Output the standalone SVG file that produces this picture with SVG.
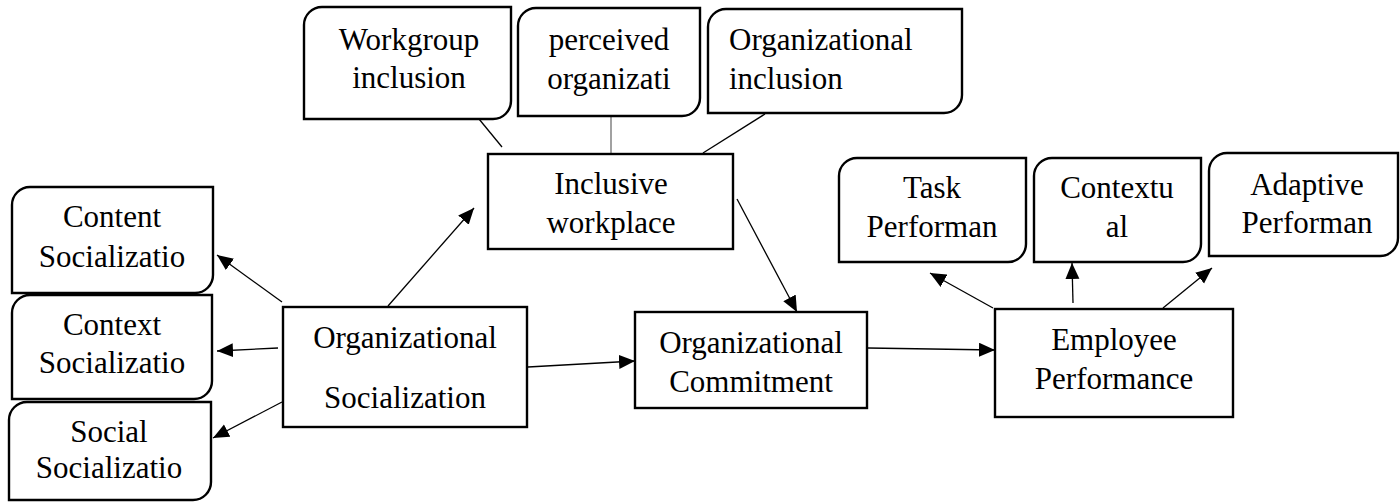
<svg xmlns="http://www.w3.org/2000/svg" width="1400" height="504" viewBox="0 0 1400 504">
  <style>
    .box { fill: #ffffff; stroke: #000000; stroke-width: 2.4; }
    .lbl { font-family: "Liberation Serif", "Times New Roman", serif; font-size: 31px; fill: #000000; text-anchor: middle; }
    .lbl-start { text-anchor: start; }
    .conn { stroke: #000000; stroke-width: 1.3; fill: none; }
    .conn-arrow { marker-end: url(#arrow); }
    .conn-gray { stroke: #8a8a8a; stroke-width: 1.6; fill: none; }
  </style>
  <defs>
    <marker id="arrow" markerUnits="userSpaceOnUse" markerWidth="18" markerHeight="15" refX="16" refY="7" orient="auto">
      <path d="M0,0 L16,7 L0,14 Z" fill="#000000"/>
    </marker>
  </defs>

  <rect width="1400" height="504" fill="#ffffff"/>

  <!-- connectors -->
  <g id="connectors">
    <line class="conn conn-arrow" x1="282" y1="302" x2="217" y2="255"/>
    <line class="conn conn-arrow" x1="278" y1="348" x2="217" y2="351"/>
    <line class="conn conn-arrow" x1="282" y1="402" x2="213" y2="438"/>
    <line class="conn conn-arrow" x1="388" y1="306" x2="474" y2="208"/>
    <line class="conn conn-arrow" x1="528" y1="367" x2="635" y2="361"/>
    <line class="conn conn-arrow" x1="737" y1="199" x2="797" y2="312"/>
    <line class="conn conn-arrow" x1="868" y1="348" x2="995" y2="350"/>
    <line class="conn conn-arrow" x1="993" y1="308" x2="930" y2="273"/>
    <line class="conn conn-arrow" x1="1073" y1="303" x2="1072" y2="263"/>
    <line class="conn conn-arrow" x1="1163" y1="308" x2="1212" y2="268"/>
    <line class="conn" x1="502" y1="147" x2="479" y2="119"/>
    <line class="conn-gray" x1="611" y1="116" x2="611" y2="153"/>
    <line class="conn" x1="703" y1="153" x2="765" y2="114"/>
  </g>

  <!-- socialization facets (rounded diagonal corners) -->
  <g id="content-socialization">
    <path class="box" d="M32,187 H213 V275 A18,18 0 0 1 195,293 H12 V205 A18,18 0 0 1 30,187 Z"/>
    <text class="lbl" x="112" y="227">Content</text>
    <text class="lbl" x="112" y="267">Socializatio</text>
  </g>
  <g id="context-socialization">
    <path class="box" d="M30,295 H212 V381 A18,18 0 0 1 194,399 H12 V313 A18,18 0 0 1 30,295 Z"/>
    <text class="lbl" x="112" y="335">Context</text>
    <text class="lbl" x="112" y="373">Socializatio</text>
  </g>
  <g id="social-socialization">
    <path class="box" d="M27,402 H211 V482 A18,18 0 0 1 193,500 H9 V420 A18,18 0 0 1 27,402 Z"/>
    <text class="lbl" x="109" y="442">Social</text>
    <text class="lbl" x="109" y="478">Socializatio</text>
  </g>

  <!-- core constructs -->
  <g id="organizational-socialization">
    <rect class="box" x="283" y="307" width="244" height="120"/>
    <text class="lbl" x="405" y="348">Organizational</text>
    <text class="lbl" x="405" y="408">Socialization</text>
  </g>
  <g id="inclusive-workplace">
    <rect class="box" x="488" y="154" width="245" height="95"/>
    <text class="lbl" x="611" y="194">Inclusive</text>
    <text class="lbl" x="611" y="233">workplace</text>
  </g>
  <g id="organizational-commitment">
    <rect class="box" x="635" y="312" width="232" height="96"/>
    <text class="lbl" x="751" y="353">Organizational</text>
    <text class="lbl" x="751" y="392">Commitment</text>
  </g>
  <g id="employee-performance">
    <rect class="box" x="995" y="309" width="238" height="108"/>
    <text class="lbl" x="1114" y="350">Employee</text>
    <text class="lbl" x="1114" y="389">Performance</text>
  </g>

  <!-- inclusion facets -->
  <g id="workgroup-inclusion">
    <path class="box" d="M322,7 H511 V101 A18,18 0 0 1 493,119 H304 V25 A18,18 0 0 1 322,7 Z"/>
    <text class="lbl" x="409" y="50">Workgroup</text>
    <text class="lbl" x="409" y="88">inclusion</text>
  </g>
  <g id="perceived-organization">
    <path class="box" d="M536,8 H700 V98 A18,18 0 0 1 682,116 H518 V26 A18,18 0 0 1 536,8 Z"/>
    <text class="lbl" x="609" y="50">perceived</text>
    <text class="lbl" x="609" y="89">organizati</text>
  </g>
  <g id="organizational-inclusion">
    <path class="box" d="M726,9 H962 V95 A18,18 0 0 1 944,113 H708 V27 A18,18 0 0 1 726,9 Z"/>
    <text class="lbl lbl-start" x="729" y="50">Organizational</text>
    <text class="lbl lbl-start" x="729" y="89">inclusion</text>
  </g>

  <!-- performance facets -->
  <g id="task-performance">
    <path class="box" d="M857,158 H1026 V244 A18,18 0 0 1 1008,262 H839 V176 A18,18 0 0 1 857,158 Z"/>
    <text class="lbl" x="932" y="198">Task</text>
    <text class="lbl" x="932" y="237">Performan</text>
  </g>
  <g id="contextual-performance">
    <path class="box" d="M1052,158 H1201 V244 A18,18 0 0 1 1183,262 H1034 V176 A18,18 0 0 1 1052,158 Z"/>
    <text class="lbl" x="1117" y="198">Contextu</text>
    <text class="lbl" x="1117" y="237">al</text>
  </g>
  <g id="adaptive-performance">
    <path class="box" d="M1227,153 H1398 V238 A18,18 0 0 1 1380,256 H1209 V171 A18,18 0 0 1 1227,153 Z"/>
    <text class="lbl" x="1307" y="195">Adaptive</text>
    <text class="lbl" x="1307" y="233">Performan</text>
  </g>
</svg>
